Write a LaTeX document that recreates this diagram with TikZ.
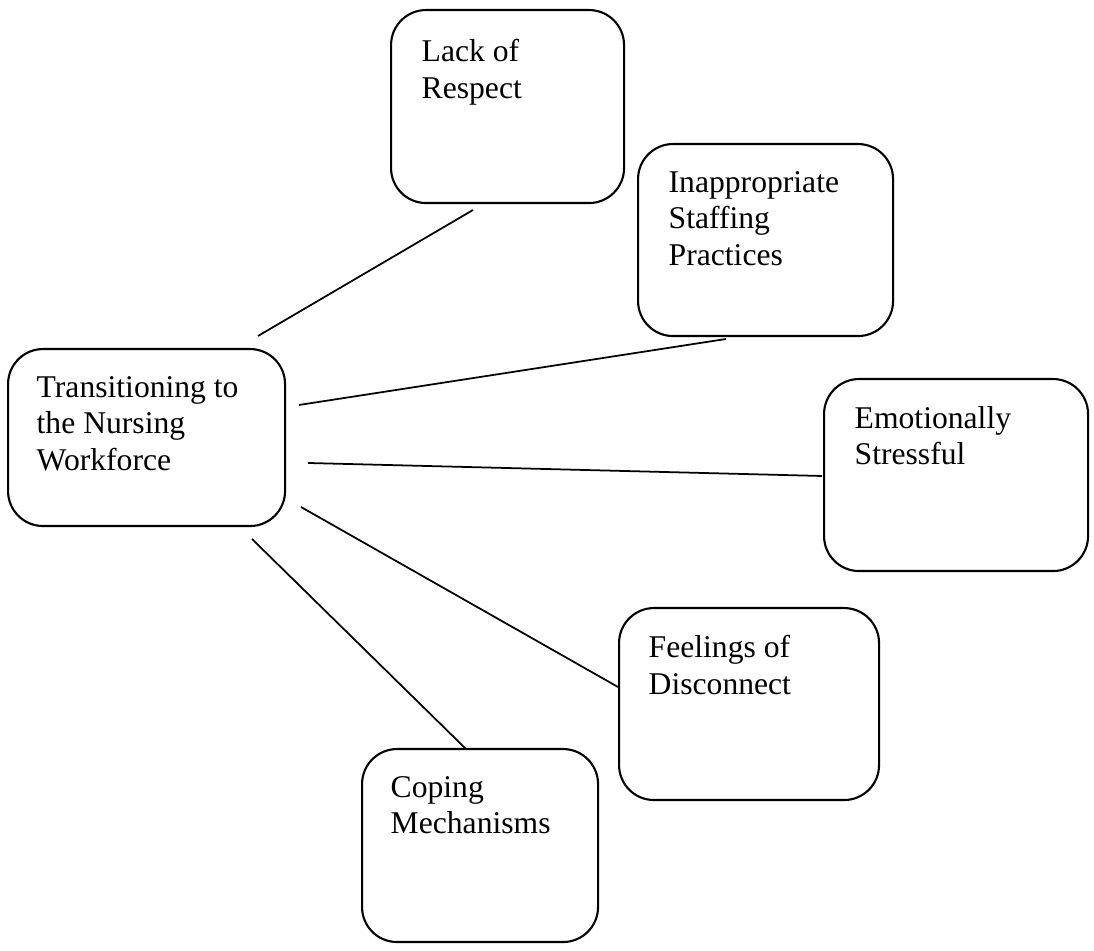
\documentclass[tikz,border=0pt]{standalone}
\usepackage{fontspec}
\setmainfont{Liberation Serif}
\usepackage{tikz}

\begin{document}
\begin{tikzpicture}[
	theme/.style = {draw=black, rectangle, rounded corners=0.35cm,
		line width=0.6pt, anchor=north west, inner sep=0pt},
	caption/.style = {anchor=north west, inner sep=0pt, align=left,
		font=\fontsize{9}{10.3}\selectfont},
	link/.style = {draw=black, line width=0.5pt}]
				\useasboundingbox (0,0) rectangle (10.94,-9.51);
				% boxes
				\node[theme, minimum width=2.33cm, minimum height=1.93cm] (respect) at(3.90,-0.09){};
				\node[theme, minimum width=2.55cm, minimum height=1.92cm] (staffing) at(6.37,-1.43){};
				\node[theme, minimum width=2.77cm, minimum height=1.77cm] (transition) at(0.07,-3.48){};
				\node[theme, minimum width=2.64cm, minimum height=1.92cm] (stress) at(8.23,-3.78){};
				\node[theme, minimum width=2.60cm, minimum height=1.92cm] (disconnect) at(6.18,-6.07){};
				\node[theme, minimum width=2.36cm, minimum height=1.93cm] (coping) at(3.61,-7.48){};
				% texts
				\node[caption] (respect text) at([xshift=0.31cm, yshift=-0.30cm]respect.north west){Lack of\\Respect};
				\node[caption] (staffing text) at([xshift=0.31cm, yshift=-0.28cm]staffing.north west){Inappropriate\\Staffing\\Practices};
				\node[caption] (transition text) at([xshift=0.29cm, yshift=-0.28cm]transition.north west){Transitioning to\\the Nursing\\Workforce};
				\node[caption] (stress text) at([xshift=0.31cm, yshift=-0.28cm]stress.north west){Emotionally\\Stressful};
				\node[caption] (disconnect text) at([xshift=0.30cm, yshift=-0.28cm]disconnect.north west){Feelings of\\Disconnect};
				\node[caption] (coping text) at([xshift=0.29cm, yshift=-0.28cm]coping.north west){Coping\\Mechanisms};
				% free ends of the lines
				\coordinate (t1) at(2.58,-3.36);
				\coordinate (t2) at(2.99,-4.05);
				\coordinate (t3) at(3.08,-4.63);
				\coordinate (t4) at(3.01,-5.07);
				\coordinate (t5) at(2.52,-5.39);
				\coordinate (r1) at(4.73,-2.10);
				\coordinate (s1) at(7.26,-3.39);
				\coordinate (e1) at(8.22,-4.76);
				\coordinate (d1) at(6.18,-6.87);
				\coordinate (c1) at(4.66,-7.49);
				\draw[link] (t1) -- (r1);
				\draw[link] (t2) -- (s1);
				\draw[link] (t3) -- (e1);
				\draw[link] (t4) -- (d1);
				\draw[link] (t5) -- (c1);
			\end{tikzpicture}
\end{document}
